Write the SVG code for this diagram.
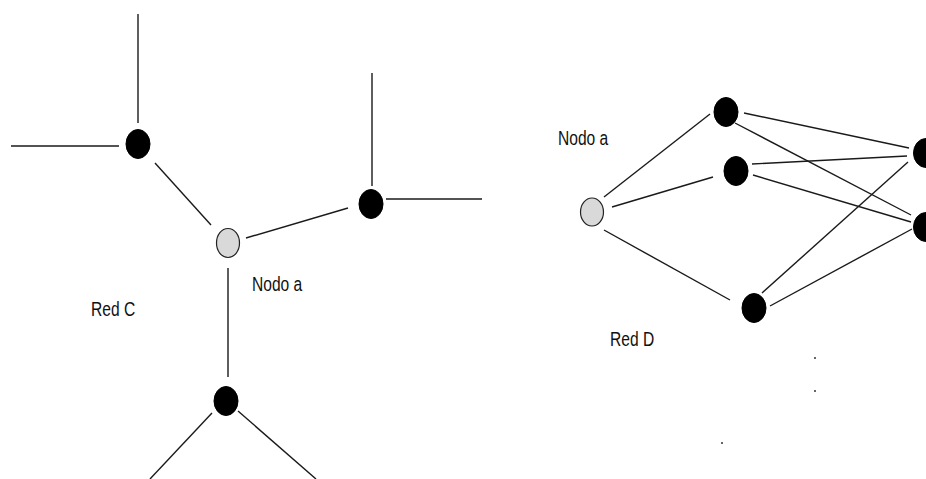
<svg xmlns="http://www.w3.org/2000/svg" width="926" height="479" viewBox="0 0 926 479">
<style>
.ln{stroke:#1a1a1a;stroke-width:1.4;fill:none}
.nb{fill:#000;stroke:#000;stroke-width:1}
.ng{fill:#d9d9d9;stroke:#222;stroke-width:1.2}
.t{font-family:"Liberation Sans",Arial,sans-serif;font-size:19.5px;fill:#111}
.dot{fill:#666}
</style>
<rect width="926" height="479" fill="#fff"/>
<g id="connectors">
<line class="ln" x1="138" y1="14" x2="138" y2="123"/>
<line class="ln" x1="11" y1="146" x2="119" y2="146"/>
<line class="ln" x1="155" y1="163" x2="211" y2="225"/>
<line class="ln" x1="246" y1="238" x2="348" y2="208"/>
<line class="ln" x1="372" y1="73" x2="372" y2="186"/>
<line class="ln" x1="386" y1="199" x2="482" y2="199"/>
<line class="ln" x1="228" y1="268" x2="228" y2="377"/>
<line class="ln" x1="212" y1="413" x2="150" y2="479"/>
<line class="ln" x1="238" y1="411" x2="316" y2="479"/>
<line class="ln" x1="604" y1="197" x2="710" y2="114"/>
<line class="ln" x1="612" y1="207" x2="713" y2="177"/>
<line class="ln" x1="604" y1="230" x2="730" y2="300"/>
<line class="ln" x1="744" y1="113" x2="909" y2="148"/>
<line class="ln" x1="735" y1="123" x2="911" y2="215"/>
<line class="ln" x1="752" y1="164" x2="907" y2="156"/>
<line class="ln" x1="753" y1="175" x2="911" y2="222"/>
<line class="ln" x1="762" y1="293" x2="908" y2="162"/>
<line class="ln" x1="770" y1="306" x2="912" y2="229"/>
</g>
<g id="c_top"><ellipse class="nb" cx="138" cy="144" rx="12" ry="14.5"/></g>
<g id="c_a"><ellipse class="ng" cx="228" cy="243" rx="11.5" ry="14.5"/></g>
<g id="c_right"><ellipse class="nb" cx="371" cy="204" rx="12" ry="14.5"/></g>
<g id="c_bottom"><ellipse class="nb" cx="226" cy="401" rx="12" ry="14.5"/></g>
<g id="d_a"><ellipse class="ng" cx="592" cy="212" rx="11.5" ry="14"/></g>
<g id="d_top"><ellipse class="nb" cx="726" cy="112" rx="12" ry="14.5"/></g>
<g id="d_mid"><ellipse class="nb" cx="736" cy="171" rx="12" ry="14.5"/></g>
<g id="d_bottom"><ellipse class="nb" cx="754" cy="308" rx="12" ry="14.5"/></g>
<g id="d_rtop"><ellipse class="nb" cx="926" cy="153" rx="12.5" ry="14.5"/></g>
<g id="d_rbot"><ellipse class="nb" cx="926" cy="227" rx="12.5" ry="14.5"/></g>
<g id="labels">
<text class="t" transform="translate(252,291) scale(0.8,1)">Nodo a</text>
<text class="t" transform="translate(91,316) scale(0.8,1)">Red C</text>
<text class="t" transform="translate(558,145) scale(0.8,1)">Nodo a</text>
<text class="t" transform="translate(610,346) scale(0.8,1)">Red D</text>
</g>
<g id="dots">
<rect class="dot" x="814" y="357" width="2" height="2"/>
<rect class="dot" x="814" y="390" width="2" height="2"/>
<rect class="dot" x="721" y="442" width="2" height="2"/>
</g>
</svg>
